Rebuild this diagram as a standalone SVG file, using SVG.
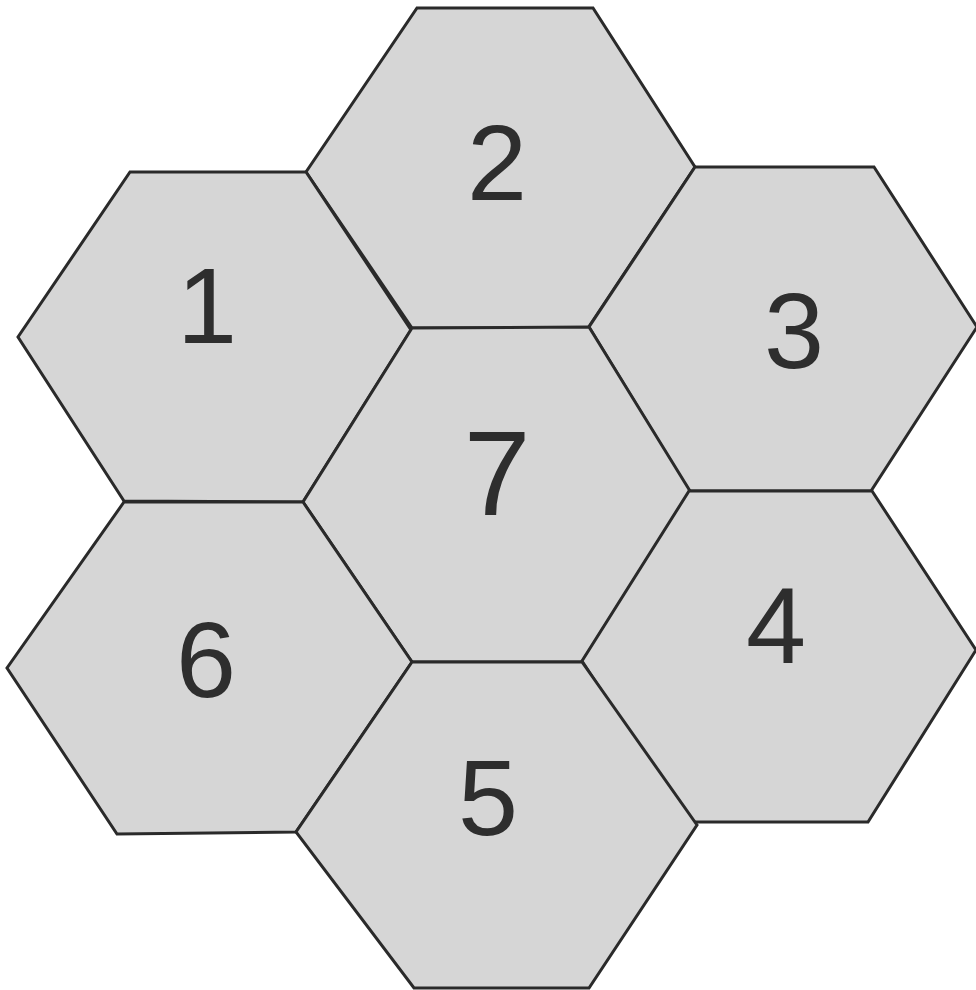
<svg xmlns="http://www.w3.org/2000/svg" width="976" height="990" viewBox="0 0 976 990">
<style>
.hex{fill:#d6d6d6;stroke:#2a2a2a;stroke-width:3;stroke-linejoin:miter}
.lbl{font-family:"Liberation Sans",Arial,sans-serif;font-size:108px;fill:#2e2e2e;text-anchor:middle}
</style>
<rect width="976" height="990" fill="#ffffff"/>
<g id="hex2"><polygon class="hex" points="417,8 593,8 695,167 588,328 412,328 306,172"/><text class="lbl" x="497" y="200">2</text></g>
<g id="hex1"><polygon class="hex" points="130,172 306,172 411,330 303,502 124,501 18,337"/><text class="lbl" x="207" y="343">1</text></g>
<g id="hex3"><polygon class="hex" points="695,167 874,167 977,327 871,491 689,491 589,327"/><text class="lbl" x="794" y="368">3</text></g>
<g id="hex7"><polygon class="hex" points="412,328 589,327 690,491 582,662 412,662 303,502"/><text class="lbl" x="497" y="515" style="font-size:120px">7</text></g>
<g id="hex6"><polygon class="hex" points="124,502 303,502 412,662 296,832 117,834 7,668"/><text class="lbl" x="206" y="697">6</text></g>
<g id="hex4"><polygon class="hex" points="689,491 872,491 976,650 868,822 688,822 582,661"/><text class="lbl" x="776" y="663">4</text></g>
<g id="hex5"><polygon class="hex" points="412,662 582,662 697,825 589,988 414,988 296,832"/><text class="lbl" x="488" y="835">5</text></g>
</svg>
